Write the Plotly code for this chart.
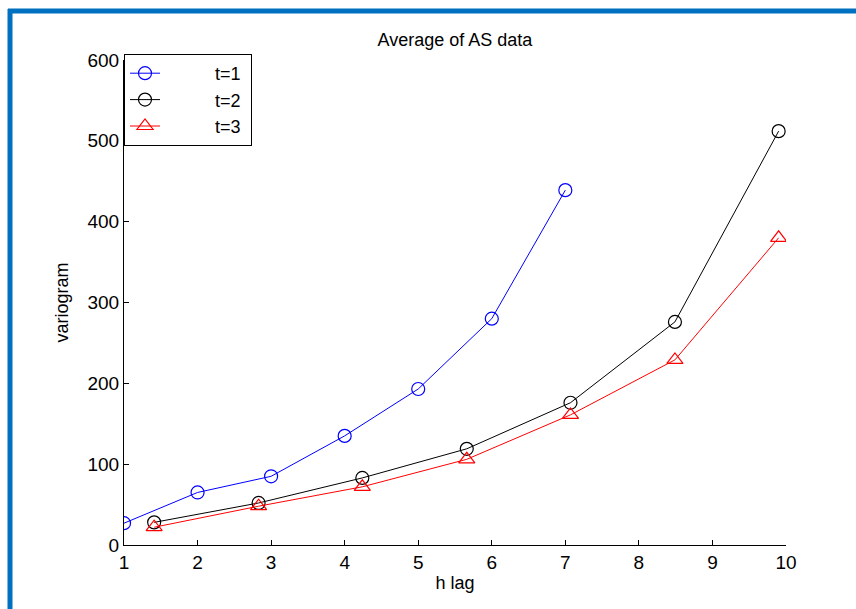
import plotly.graph_objects as go

# data
x_t1 = [1, 2, 3, 4, 5, 6, 7]
y_t1 = [27, 65, 85, 135, 193, 280, 439]
x_t23 = [1.41, 2.83, 4.24, 5.66, 7.07, 8.49, 9.9]
y_t2 = [28, 52, 83, 119, 176, 276, 512]
y_t3 = [22, 48, 72, 106, 161, 229, 380]
names = ["t=1", "t=2", "t=3"]

W, H = 856, 609
L, R, T, B = 124, 786, 60, 545

FONT = "Liberation Sans, Arial, sans-serif"
LEAD = "\u00a0" * 10
TRAIL = "\u00a0"

fig = go.Figure()
fig.add_trace(go.Scatter(x=x_t1, y=y_t1, mode="lines+markers", name=LEAD + names[0] + TRAIL,
                         legendgroup="a",
                         line=dict(color="#0000FF", width=1),
                         marker=dict(symbol="circle-open", size=13, color="#0000FF",
                                     line=dict(width=1.2))))
fig.add_trace(go.Scatter(x=x_t23, y=y_t2, mode="lines+markers", name=LEAD + names[1] + TRAIL,
                         legendgroup="b",
                         line=dict(color="#000000", width=1),
                         marker=dict(symbol="circle-open", size=13, color="#000000",
                                     line=dict(width=1.2))))
fig.add_trace(go.Scatter(x=x_t23, y=y_t3, mode="lines+markers", name=LEAD + names[2] + TRAIL,
                         legendgroup="c",
                         line=dict(color="#FF0000", width=1),
                         marker=dict(symbol="triangle-up-open", size=14, color="#FF0000",
                                     line=dict(width=1.2))))

pw = R - L
ph = B - T


def px(xp):
    return (xp - L) / pw


def py(yp):
    return (B - yp) / ph


shapes = [
    dict(type="line", xref="paper", yref="paper", x0=px(8), x1=px(870),
         y0=py(11), y1=py(11), line=dict(color="#0070C0", width=5)),
    dict(type="line", xref="paper", yref="paper", x0=px(10), x1=px(10),
         y0=py(9), y1=py(620), line=dict(color="#0070C0", width=5)),
]

fig.update_layout(
    width=W, height=H,
    margin=dict(l=L, r=W - R, t=T, b=H - B, pad=0),
    paper_bgcolor="white", plot_bgcolor="white",
    font=dict(family=FONT, size=18, color="black"),
    title=dict(text="Average of AS data", x=0.5, xref="paper", xanchor="center",
               y=1 - 40 / H, yanchor="middle", font=dict(size=18)),
    xaxis=dict(range=[1, 10], tickvals=list(range(1, 11)), showgrid=False,
               zeroline=False, showline=True, linecolor="black", linewidth=1,
               ticks="inside", ticklen=5, tickcolor="black",
               tickfont=dict(size=19),
               title=dict(text="h lag", standoff=4, font=dict(size=18))),
    yaxis=dict(range=[0, 600], tickvals=[0, 100, 200, 300, 400, 500, 600],
               showgrid=False, zeroline=False, showline=True, linecolor="black",
               linewidth=1, ticks="inside", ticklen=5, tickcolor="black",
               tickfont=dict(size=19),
               title=dict(text="variogram", standoff=14, font=dict(size=18))),
    legend=dict(x=0, y=1 + 6 / ph, xanchor="left", yanchor="top",
                bordercolor="black", borderwidth=1, bgcolor="white",
                tracegroupgap=0, font=dict(size=18)),
    shapes=shapes,
    showlegend=True,
)

fig.write_html("out.html")
